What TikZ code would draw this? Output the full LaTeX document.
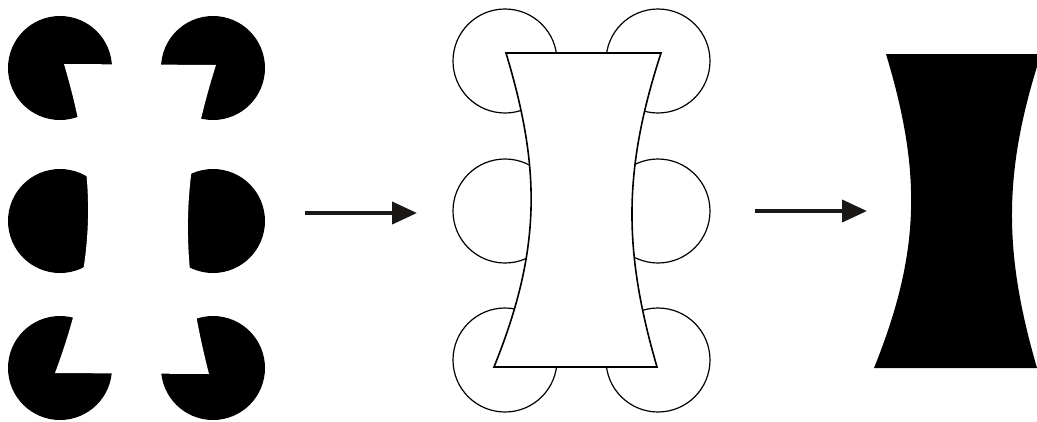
\documentclass[tikz,border=0pt]{standalone}
\usetikzlibrary{arrows.meta}
\definecolor{ink}{HTML}{1A1717}
\begin{document}
\begin{tikzpicture}[x=1pt,y=-1pt,
  disk/.style={fill=black},
  ring/.style={draw=black,line width=1.2pt,fill=white},
  outline/.style={draw=black,line width=1.6pt,fill=white,line join=miter},
  blackshape/.style={fill=black},
  flowarrow/.style={draw=ink,line width=4pt,-{Triangle[length=25pt,width=22pt]}}]
\useasboundingbox (0,0) rectangle (1037,421);
\clip (0,0) rectangle (1037,421);
% ---- left panel: inducers ----
\foreach \x/\y in {60/68,213/68,60/221,213/221,60/368,213/368}
  \fill[disk] (\x,\y) circle[radius=52pt];
\fill[white] (64,64) -- (216,65) .. controls (179.8,179) and (179.8,260) .. (209,374)
  -- (55,373) .. controls (97.5,259) and (97.5,178) .. (64,64) -- cycle;
% ---- middle panel ----
\foreach \x/\y in {505/61,658/61,505/211,658/211,505/360,658/360}
  \draw[ring] (\x,\y) circle[radius=52pt];
\draw[outline] (506,53) -- (661,53) .. controls (623,170) and (623,250) .. (657,367)
  -- (494,367) .. controls (541.3,250) and (541.3,170) .. (506,53) -- cycle;
% ---- right panel ----
\fill[blackshape,shift={(380,1)}] (506,53) -- (661,53) .. controls (623,170) and (623,250) .. (657,367)
  -- (494,367) .. controls (541.3,250) and (541.3,170) .. (506,53) -- cycle;
% ---- arrows ----
\coordinate (a1s) at (305,213);
\coordinate (a1e) at (417,213);
\coordinate (a2s) at (755,211);
\coordinate (a2e) at (867,211);
\draw[flowarrow] (a1s) -- (a1e);
\draw[flowarrow] (a2s) -- (a2e);
\end{tikzpicture}
\end{document}
